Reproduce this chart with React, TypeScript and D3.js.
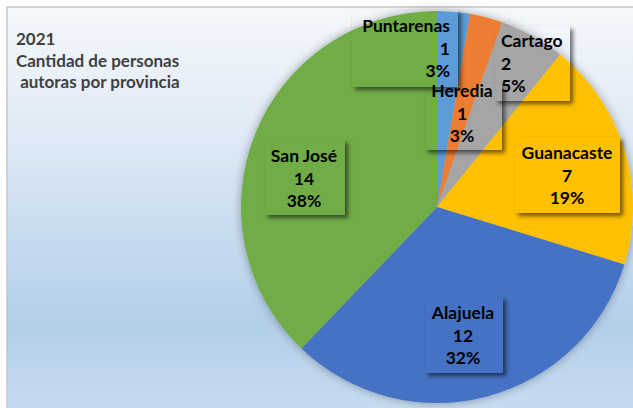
import React from "react";
import * as d3 from "d3";

const provinces = ["Puntarenas", "Heredia", "Cartago", "Guanacaste", "Alajuela", "San José"];
const values = [1, 1, 2, 7, 12, 14];
const colors = ["#5B9BD5", "#ED7D31", "#A5A5A5", "#FFC000", "#4472C4", "#70AD47"];
const titleLines = ["2021", "Cantidad de personas", " autoras por provincia"];

// label layout: box [x, y, w, h], text anchor and anchor x, first baseline
const labelLayout = [
  { box: [352, 10, 106, 77], anchor: "end", tx: 450, ty: 32 },
  { box: [425, 83, 77, 67], anchor: "middle", tx: 462, ty: 97 },
  { box: [495, 26, 75, 75], anchor: "start", tx: 501, ty: 47 },
  { box: [515, 137, 105, 76], anchor: "middle", tx: 567, ty: 159 },
  { box: [425, 297, 78, 76], anchor: "middle", tx: 463, ty: 319 },
  { box: [265, 140, 80, 75], anchor: "middle", tx: 304, ty: 162 },
];

const W = 633;
const H = 408;
const CX = 437;
const CY = 207;
const R = 196;
const FONT = "Lato, 'Open Sans', sans-serif";

export default function App() {
  const total = d3.sum(values);
  const pie = d3.pie<number>().sort(null).value((d) => d)(values);
  const arc = d3.arc<d3.PieArcDatum<number>>().innerRadius(0).outerRadius(R);
  const pct = d3.format(".0%");

  return (
    <svg width={W} height={H} style={{ position: "absolute", left: 0, top: 0 }}>
      <defs>
        <linearGradient id="bg" x1="0" y1="0" x2="0" y2="1">
          <stop offset="0" stopColor="#F5F8FC" />
          <stop offset="0.35" stopColor="#DCE8F5" />
          <stop offset="0.78" stopColor="#B3CFEA" />
          <stop offset="1" stopColor="#C9DCF0" />
        </linearGradient>
        <filter id="pieShadow" x="-20%" y="-20%" width="140%" height="140%">
          <feGaussianBlur in="SourceAlpha" stdDeviation="5" />
          <feOffset dx="0" dy="0" result="b" />
          <feComponentTransfer>
            <feFuncA type="linear" slope="0.35" />
          </feComponentTransfer>
          <feMerge>
            <feMergeNode />
            <feMergeNode in="SourceGraphic" />
          </feMerge>
        </filter>
        <filter id="boxBlur" x="-30%" y="-30%" width="160%" height="160%">
          <feGaussianBlur stdDeviation="2.2" />
        </filter>
        {labelLayout.map((l, i) => (
          <mask id={`m${i}`} key={i} maskUnits="userSpaceOnUse" x="0" y="0" width={W} height={H}>
            <rect x="0" y="0" width={W} height={H} fill="white" />
            <rect x={l.box[0]} y={l.box[1]} width={l.box[2]} height={l.box[3]} fill="black" />
          </mask>
        ))}
      </defs>
      <rect x={7} y={7} width={W} height={H} fill="url(#bg)" stroke="#C6C6C6" strokeWidth={1.5} />
      <g fill="#404040" fontFamily={FONT} fontWeight="bold" fontSize={17}>
        {titleLines.map((t, i) => (
          <text key={i} x={16} y={45 + i * 21.5} style={{ whiteSpace: "pre" }}>
            {t}
          </text>
        ))}
      </g>
      <g transform={`translate(${CX},${CY})`} filter="url(#pieShadow)">
        {pie.map((p, i) => (
          <path key={i} d={arc(p) || ""} fill={colors[i]} />
        ))}
      </g>
      {labelLayout.map((l, i) => (
        <g key={i}>
          <rect
            x={l.box[0] + 3}
            y={l.box[1] + 3}
            width={l.box[2]}
            height={l.box[3]}
            fill="#000"
            opacity={0.55}
            filter="url(#boxBlur)"
            mask={`url(#m${i})`}
          />
          <text
            fontFamily={FONT}
            fontWeight="bold"
            fontSize={17.5}
            fill="#000"
            textAnchor={l.anchor}
          >
            {[provinces[i], String(values[i]), pct(values[i] / total)].map((s, j) => (
              <tspan key={j} x={l.tx} y={l.ty + j * 22.5}>
                {s}
              </tspan>
            ))}
          </text>
        </g>
      ))}
    </svg>
  );
}
